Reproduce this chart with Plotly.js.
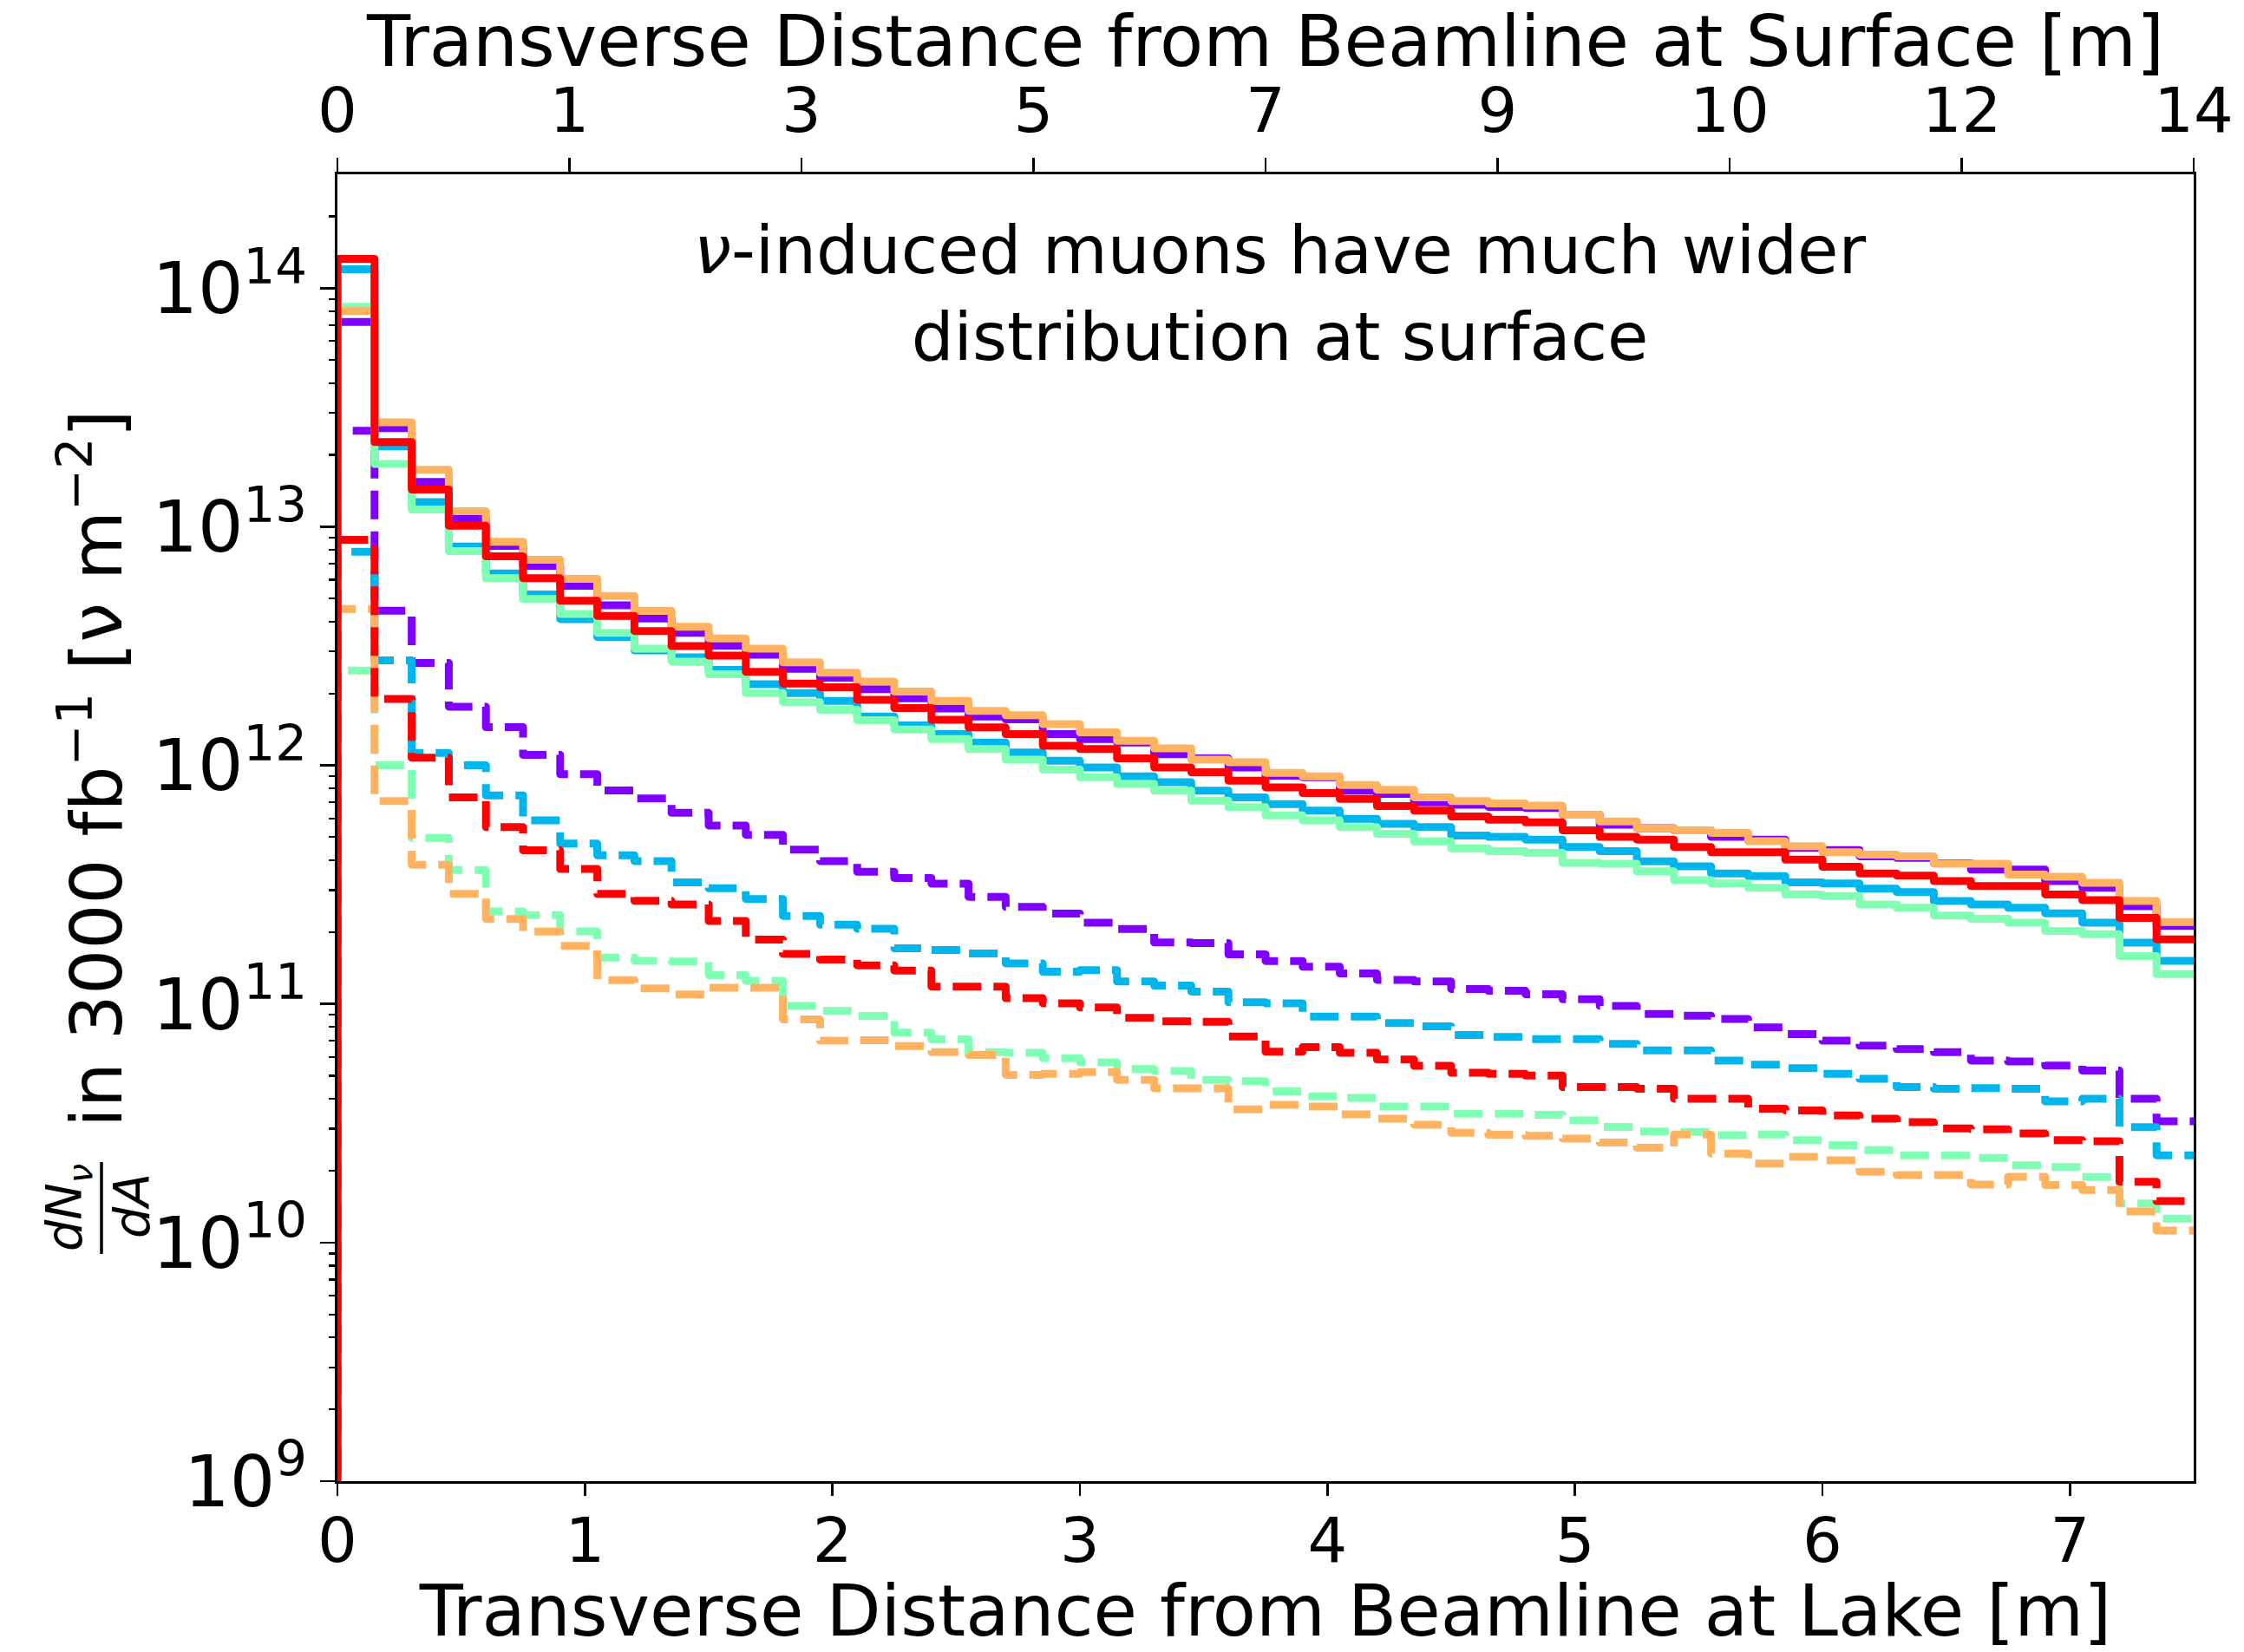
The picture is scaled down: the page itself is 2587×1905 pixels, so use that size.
<!DOCTYPE html>
<html>
<head>
<meta charset="utf-8">
<script src="https://cdn.plot.ly/plotly-3.0.1.min.js"></script>
<style>
  html, body { margin: 0; padding: 0; background: #ffffff; }
  #chart { width: 2587px; height: 1905px; }
  .scatterlayer .js-line { stroke-linejoin: round; }
</style>
</head>
<body>
<div id="chart"></div>
<script>
// Histogram binning along the transverse distance at the lake (m)
const nBins = 50;
const binWidth = 0.15;
const xMax = 7.5;

// Bottom-axis ticks and the matching surface-distance labels on the top axis
const lakeTicks = [0, 1, 2, 3, 4, 5, 6, 7];
const surfaceTickText = ['0', '1', '3', '5', '7', '9', '10', '12', '14'];

// log10(dN/dA) per bin, solid lines
const purpleSolidLog = [13.858, 13.413, 13.188, 13.035, 12.920, 12.836, 12.753, 12.671, 12.615, 12.555,
  12.502, 12.464, 12.405, 12.367, 12.319, 12.281, 12.238, 12.205, 12.193, 12.131,
  12.110, 12.096, 12.047, 12.029, 11.991, 11.957, 11.950, 11.894, 11.880, 11.845,
  11.835, 11.826, 11.821, 11.793, 11.751, 11.737, 11.728, 11.700, 11.689, 11.654,
  11.645, 11.619, 11.612, 11.590, 11.563, 11.563, 11.515, 11.487, 11.410, 11.327];
const blueSolidLog = [14.079, 13.337, 13.103, 12.917, 12.804, 12.716, 12.613, 12.538, 12.482, 12.453,
  12.400, 12.340, 12.303, 12.270, 12.205, 12.167, 12.131, 12.096, 12.054, 12.019,
  11.991, 11.954, 11.929, 11.894, 11.866, 11.838, 11.810, 11.776, 11.755, 11.741,
  11.706, 11.700, 11.689, 11.658, 11.640, 11.598, 11.577, 11.547, 11.536, 11.510,
  11.505, 11.483, 11.469, 11.431, 11.417, 11.403, 11.380, 11.341, 11.257, 11.181];
const greenSolidLog = [13.922, 13.263, 13.072, 12.898, 12.784, 12.697, 12.634, 12.555, 12.489, 12.435,
  12.382, 12.303, 12.265, 12.233, 12.189, 12.150, 12.110, 12.068, 12.024, 11.982,
  11.950, 11.922, 11.894, 11.852, 11.825, 11.790, 11.769, 11.741, 11.713, 11.681,
  11.652, 11.640, 11.633, 11.591, 11.588, 11.556, 11.519, 11.505, 11.487, 11.459,
  11.452, 11.417, 11.403, 11.371, 11.357, 11.341, 11.306, 11.292, 11.201, 11.125];
const orangeSolidLog = [13.904, 13.438, 13.239, 13.065, 12.937, 12.862, 12.782, 12.710, 12.647, 12.581,
  12.532, 12.489, 12.432, 12.388, 12.351, 12.309, 12.270, 12.228, 12.210, 12.173,
  12.138, 12.103, 12.071, 12.024, 12.013, 11.968, 11.954, 11.918, 11.898, 11.866,
  11.850, 11.840, 11.831, 11.793, 11.765, 11.737, 11.728, 11.717, 11.682, 11.661,
  11.636, 11.626, 11.619, 11.588, 11.588, 11.542, 11.533, 11.508, 11.431, 11.343];
const redSolidLog = [14.123, 13.355, 13.156, 13.004, 12.876, 12.784, 12.690, 12.626, 12.563, 12.500,
  12.460, 12.392, 12.343, 12.327, 12.275, 12.240, 12.191, 12.159, 12.131, 12.082,
  12.068, 12.029, 11.991, 11.971, 11.936, 11.908, 11.884, 11.859, 11.829, 11.810,
  11.786, 11.772, 11.761, 11.728, 11.700, 11.689, 11.658, 11.636, 11.636, 11.605,
  11.575, 11.547, 11.538, 11.515, 11.494, 11.494, 11.459, 11.435, 11.361, 11.271];

// log10(dN/dA) per bin, dashed lines
const purpleDashLog = [13.402, 12.648, 12.429, 12.246, 12.160, 12.044, 11.963, 11.895, 11.861, 11.801,
  11.748, 11.709, 11.647, 11.599, 11.554, 11.528, 11.504, 11.449, 11.407, 11.379,
  11.341, 11.314, 11.258, 11.255, 11.208, 11.180, 11.156, 11.128, 11.101, 11.094,
  11.063, 11.055, 11.041, 11.020, 10.992, 10.958, 10.951, 10.937, 10.902, 10.874,
  10.846, 10.825, 10.811, 10.798, 10.763, 10.759, 10.742, 10.721, 10.603, 10.508];
const blueDashLog = [12.895, 12.440, 12.052, 12.000, 11.874, 11.769, 11.672, 11.623, 11.599, 11.510,
  11.485, 11.440, 11.369, 11.332, 11.315, 11.233, 11.226, 11.212, 11.170, 11.135,
  11.142, 11.094, 11.077, 11.052, 11.007, 11.003, 10.947, 10.947, 10.920, 10.906,
  10.870, 10.862, 10.853, 10.853, 10.833, 10.805, 10.805, 10.763, 10.745, 10.731,
  10.707, 10.686, 10.652, 10.645, 10.647, 10.645, 10.592, 10.603, 10.484, 10.366];
const greenDashLog = [12.397, 12.000, 11.696, 11.561, 11.388, 11.372, 11.304, 11.194, 11.181, 11.178,
  11.121, 11.097, 10.992, 10.971, 10.950, 10.880, 10.852, 10.798, 10.795, 10.773,
  10.755, 10.727, 10.719, 10.682, 10.676, 10.634, 10.613, 10.606, 10.570, 10.570,
  10.540, 10.540, 10.536, 10.512, 10.485, 10.466, 10.464, 10.450, 10.453, 10.429,
  10.408, 10.387, 10.366, 10.366, 10.355, 10.324, 10.317, 10.275, 10.164, 10.100];
const orangeDashLog = [12.655, 11.850, 11.583, 11.461, 11.356, 11.303, 11.243, 11.100, 11.065, 11.040,
  11.068, 11.068, 10.935, 10.846, 10.848, 10.824, 10.798, 10.786, 10.703, 10.707,
  10.715, 10.682, 10.646, 10.646, 10.558, 10.577, 10.570, 10.537, 10.519, 10.494,
  10.460, 10.452, 10.447, 10.436, 10.419, 10.397, 10.453, 10.373, 10.331, 10.359,
  10.345, 10.297, 10.283, 10.283, 10.243, 10.276, 10.241, 10.220, 10.130, 10.050];
const redDashLog = [12.945, 12.278, 12.032, 11.866, 11.741, 11.644, 11.566, 11.461, 11.432, 11.417,
  11.348, 11.270, 11.210, 11.186, 11.162, 11.140, 11.073, 11.073, 11.024, 11.003,
  10.985, 10.942, 10.927, 10.925, 10.864, 10.800, 10.819, 10.795, 10.767, 10.741,
  10.712, 10.707, 10.700, 10.652, 10.652, 10.645, 10.603, 10.603, 10.561, 10.554,
  10.533, 10.519, 10.505, 10.478, 10.475, 10.457, 10.429, 10.425, 10.255, 10.174];

// Line colours
const colors = {
  purple: '#8000ff',
  blue: '#00b5eb',
  green: '#80ffb4',
  orange: '#ffb360',
  red: '#ff0000'
};

const FONT = 'DejaVu Sans, sans-serif';
const LW = 9;
const DASH = '33px,14px';
const yFloor = 1e8;          // histogram baseline, below the visible range
const yTop = 3e14;

const edges = [];
for (let i = 0; i <= nBins; i++) edges.push(+(i * binWidth).toFixed(6));

// Step outline of a histogram, rising from the baseline at x = 0
function stepTrace(logVals, color, dashed) {
  const vals = logVals.map(v => Math.pow(10, v));
  const x = [0].concat(edges.slice(0, nBins), [xMax]);
  const y = [yFloor].concat(vals, [vals[vals.length - 1]]);
  return {
    type: 'scatter', mode: 'lines', x: x, y: y,
    xaxis: 'x', yaxis: 'y',
    line: { shape: 'hv', color: color, width: LW, dash: dashed ? DASH : 'solid', simplify: false },
    hoverinfo: 'skip', showlegend: false
  };
}

const traces = [
  stepTrace(purpleSolidLog, colors.purple, false),
  stepTrace(purpleDashLog, colors.purple, true),
  stepTrace(blueSolidLog, colors.blue, false),
  stepTrace(blueDashLog, colors.blue, true),
  stepTrace(greenSolidLog, colors.green, false),
  stepTrace(greenDashLog, colors.green, true),
  stepTrace(orangeSolidLog, colors.orange, false),
  stepTrace(orangeDashLog, colors.orange, true),
  stepTrace(redSolidLog, colors.red, false),
  stepTrace(redDashLog, colors.red, true),
  // empty traces that tie the extra tick axes into the figure
  { type: 'scatter', mode: 'lines', x: [], y: [], xaxis: 'x2', yaxis: 'y2', hoverinfo: 'skip', showlegend: false },
  { type: 'scatter', mode: 'lines', x: [], y: [], xaxis: 'x3', yaxis: 'y', hoverinfo: 'skip', showlegend: false }
];

// Surface-distance ticks sit at equal spacing along the lake axis
const surfaceTickPos = surfaceTickText.map((_, i) => i * xMax / (surfaceTickText.length - 1));

// Minor ticks of the log axis
const minorVals = [];
for (let p = 9; p <= 14; p++) for (let m = 2; m <= 9; m++) {
  const v = m * Math.pow(10, p);
  if (v < yTop) minorVals.push(v);
}

// Plot-area box in pixels
const L = 389, R = 2529, T = 201, B = 1708, W = 2587, H = 1905;
const px = v => (v - L) / (R - L);
const py = v => (B - v) / (B - T);

const axisCommon = {
  showline: true, linecolor: '#000', linewidth: 2.7,
  ticks: 'outside', tickcolor: '#000', tickwidth: 2.7,
  showgrid: false, zeroline: false,
  tickfont: { family: FONT, size: 72, color: '#000' }
};

const layout = {
  width: W, height: H,
  margin: { l: L, r: W - R, t: T, b: H - B, pad: 0 },
  paper_bgcolor: '#fff', plot_bgcolor: '#fff',
  showlegend: false,
  font: { family: FONT, color: '#000' },
  // bottom axis: labels sit close under the axis line
  xaxis: Object.assign({}, axisCommon, {
    range: [0, xMax], tickmode: 'array', tickvals: lakeTicks, ticklen: 4,
    mirror: true, anchor: 'y',
    title: { text: 'Transverse Distance from Beamline at Lake [m]', font: { family: FONT, size: 82, color: '#000' }, standoff: 44 }
  }),
  // full-length bottom tick marks
  xaxis3: {
    range: [0, xMax], overlaying: 'x', side: 'bottom', anchor: 'y',
    tickmode: 'array', tickvals: lakeTicks, ticks: 'outside', ticklen: 16, tickwidth: 2.7,
    tickcolor: '#000', showticklabels: false, showline: false, showgrid: false, zeroline: false
  },
  xaxis2: Object.assign({}, axisCommon, {
    range: [0, xMax], overlaying: 'x', side: 'top', anchor: 'y',
    tickmode: 'array', tickvals: surfaceTickPos, ticktext: surfaceTickText, ticklen: 16,
    ticklabelstandoff: 2,
    title: { text: 'Transverse Distance from Beamline at Surface [m]', font: { family: FONT, size: 82, color: '#000' }, standoff: 8 }
  }),
  yaxis: Object.assign({}, axisCommon, {
    type: 'log', range: [9, Math.log10(yTop)], tickmode: 'linear', tick0: 0, dtick: 1,
    exponentformat: 'power', ticklen: 17, ticklabelstandoff: 2, mirror: true, anchor: 'x',
    tickfont: { family: FONT, size: 66, color: '#000' }
  }),
  yaxis2: {
    type: 'log', range: [9, Math.log10(yTop)], overlaying: 'y', side: 'left', anchor: 'x',
    tickmode: 'array', tickvals: minorVals, ticks: 'outside', ticklen: 9, tickwidth: 2.2,
    tickcolor: '#000', showticklabels: false, showline: false, showgrid: false, zeroline: false
  },
  annotations: [
    {
      xref: 'paper', yref: 'paper', x: px(1475), y: py(338), xanchor: 'center', yanchor: 'middle',
      text: '<i>ν</i>-induced muons have much wider<br>distribution at surface',
      showarrow: false, font: { family: FONT, size: 77, color: '#000' }
    },
    {
      xref: 'paper', yref: 'paper', x: px(106), y: py(886), xanchor: 'center', yanchor: 'middle',
      textangle: -90, text: 'in 3000 fb<sup>−1</sup> [ν m<sup>−2</sup>]',
      showarrow: false, font: { family: FONT, size: 82, color: '#000' }
    },
    {
      xref: 'paper', yref: 'paper', x: px(78), y: py(1393), xanchor: 'center', yanchor: 'middle',
      textangle: -90, text: '<i>dN<sub>ν</sub></i>',
      showarrow: false, font: { family: FONT, size: 57, color: '#000' }
    },
    {
      xref: 'paper', yref: 'paper', x: px(152), y: py(1391), xanchor: 'center', yanchor: 'middle',
      textangle: -90, text: '<i>dA</i>',
      showarrow: false, font: { family: FONT, size: 57, color: '#000' }
    }
  ],
  shapes: [
    {
      type: 'line', xref: 'paper', yref: 'paper',
      x0: px(117), x1: px(117), y0: py(1340), y1: py(1446),
      line: { color: '#000', width: 3.5 }
    }
  ]
};

Plotly.newPlot('chart', traces, layout, { staticPlot: true, displayModeBar: false });
</script>
</body>
</html>
